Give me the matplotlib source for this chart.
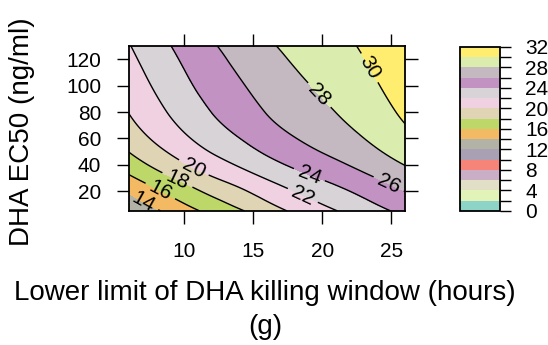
import numpy as np
import matplotlib
matplotlib.use("Agg")
import matplotlib.pyplot as plt
import matplotlib.tri as mtri
from matplotlib.colors import LinearSegmentedColormap
from matplotlib.ticker import FixedLocator

plt.rcParams['font.family'] = ['Liberation Sans', 'DejaVu Sans']

# lower limit of the killing window (hours) and DHA EC50 (ng/ml)
g_vals = [6, 8, 10, 12, 14, 16, 18, 20, 22, 24, 26]
ec50_vals = [5, 10, 20, 30, 45, 60, 80, 105, 130]

# response surface, one row per EC50 value
z_rows = [
    [12.20, 13.77, 15.21, 16.55, 17.76, 19.07, 20.32, 21.41, 22.46, 23.49, 24.51],
    [12.93, 14.49, 15.91, 17.24, 18.44, 19.72, 20.93, 21.99, 23.01, 24.03, 25.05],
    [14.24, 15.77, 17.18, 18.49, 19.65, 20.89, 22.03, 23.03, 24.00, 25.00, 26.02],
    [15.64, 17.16, 18.54, 19.83, 20.96, 22.14, 23.21, 24.15, 25.07, 26.05, 27.06],
    [17.54, 19.02, 20.38, 21.63, 22.72, 23.83, 24.80, 25.66, 26.50, 27.46, 28.47],
    [18.89, 20.35, 21.69, 22.93, 23.98, 25.04, 25.94, 26.74, 27.53, 28.47, 29.47],
    [20.06, 21.50, 22.82, 24.03, 25.06, 26.08, 26.92, 27.66, 28.41, 29.33, 30.33],
    [21.03, 22.45, 23.76, 24.96, 25.96, 26.94, 27.74, 28.44, 29.14, 30.05, 31.05],
    [21.90, 23.31, 24.60, 25.79, 26.77, 27.72, 28.47, 29.13, 29.80, 30.70, 31.70],
]

levels = list(range(0, 33, 2))
key_ticks = list(range(0, 33, 4))

# where the contour labels sit (g, EC50)
label_pos = [(7.25, 15.5), (8.35, 21.8), (9.55, 29.5), (10.7, 38.0),
             (18.75, 20.2), (19.1, 33.3), (24.75, 24.0), (19.8, 92.9),
             (23.6, 114.4)]

set3 = ['#8DD3C7', '#FFFFB3', '#BEBADA', '#FB8072', '#80B1D3', '#FDB462',
        '#B3DE69', '#FCCDE5', '#D9D9D9', '#BC80BD', '#CCEBC5', '#FFED6F']
cmap = LinearSegmentedColormap.from_list('set3_ramp', set3, N=16)

G, E = np.meshgrid(g_vals, ec50_vals)
Z = np.array(z_rows)
tri = mtri.Triangulation(G.ravel(), E.ravel())
tri_f, z_f = mtri.UniformTriRefiner(tri).refine_field(Z.ravel(), subdiv=4)

fig = plt.figure(figsize=(5.48, 3.45), dpi=100)
ax = fig.add_axes([129 / 548, 1 - 211 / 345, 276 / 548, 165 / 345])

cf = ax.tricontourf(tri_f, z_f, levels=levels, cmap=cmap, vmin=0, vmax=32)
cs = ax.tricontour(tri_f, z_f, levels=levels, colors='black', linewidths=1.0)
ax.clabel(cs, manual=label_pos, inline=True, fontsize=15, fmt='%d')

ax.set_xlim(6, 26)
ax.set_ylim(5, 130)
ax.set_xticks([10, 15, 20, 25])
ax.set_yticks([20, 40, 60, 80, 100, 120])
ax.tick_params(direction='out', length=9, width=1, labelsize=15,
               top=True, right=True, labeltop=False, labelright=False)
ax.tick_params(axis='x', pad=13.5)
ax.tick_params(axis='y', pad=11)
for sp in ax.spines.values():
    sp.set_linewidth(1.3)

cax = fig.add_axes([460 / 548, 1 - 211 / 345, 40 / 548, 164.3 / 345])
cb = fig.colorbar(cf, cax=cax, ticks=key_ticks)
cb.outline.set_linewidth(1.3)
cax.yaxis.set_minor_locator(FixedLocator(list(range(2, 32, 4))))
cax.tick_params(which='both', direction='out', length=8, width=1)
cax.tick_params(labelsize=15, pad=10)

fig.text(22 / 548, 1 - 132 / 345, 'DHA EC50 (ng/ml)', rotation=90,
         ha='center', va='center', fontsize=20)
fig.text(265 / 548, 1 - 310 / 345, 'Lower limit of DHA killing window (hours)\n(g)',
         ha='center', va='center', fontsize=20, linespacing=1.45)

fig.savefig('out.png', dpi=100)
